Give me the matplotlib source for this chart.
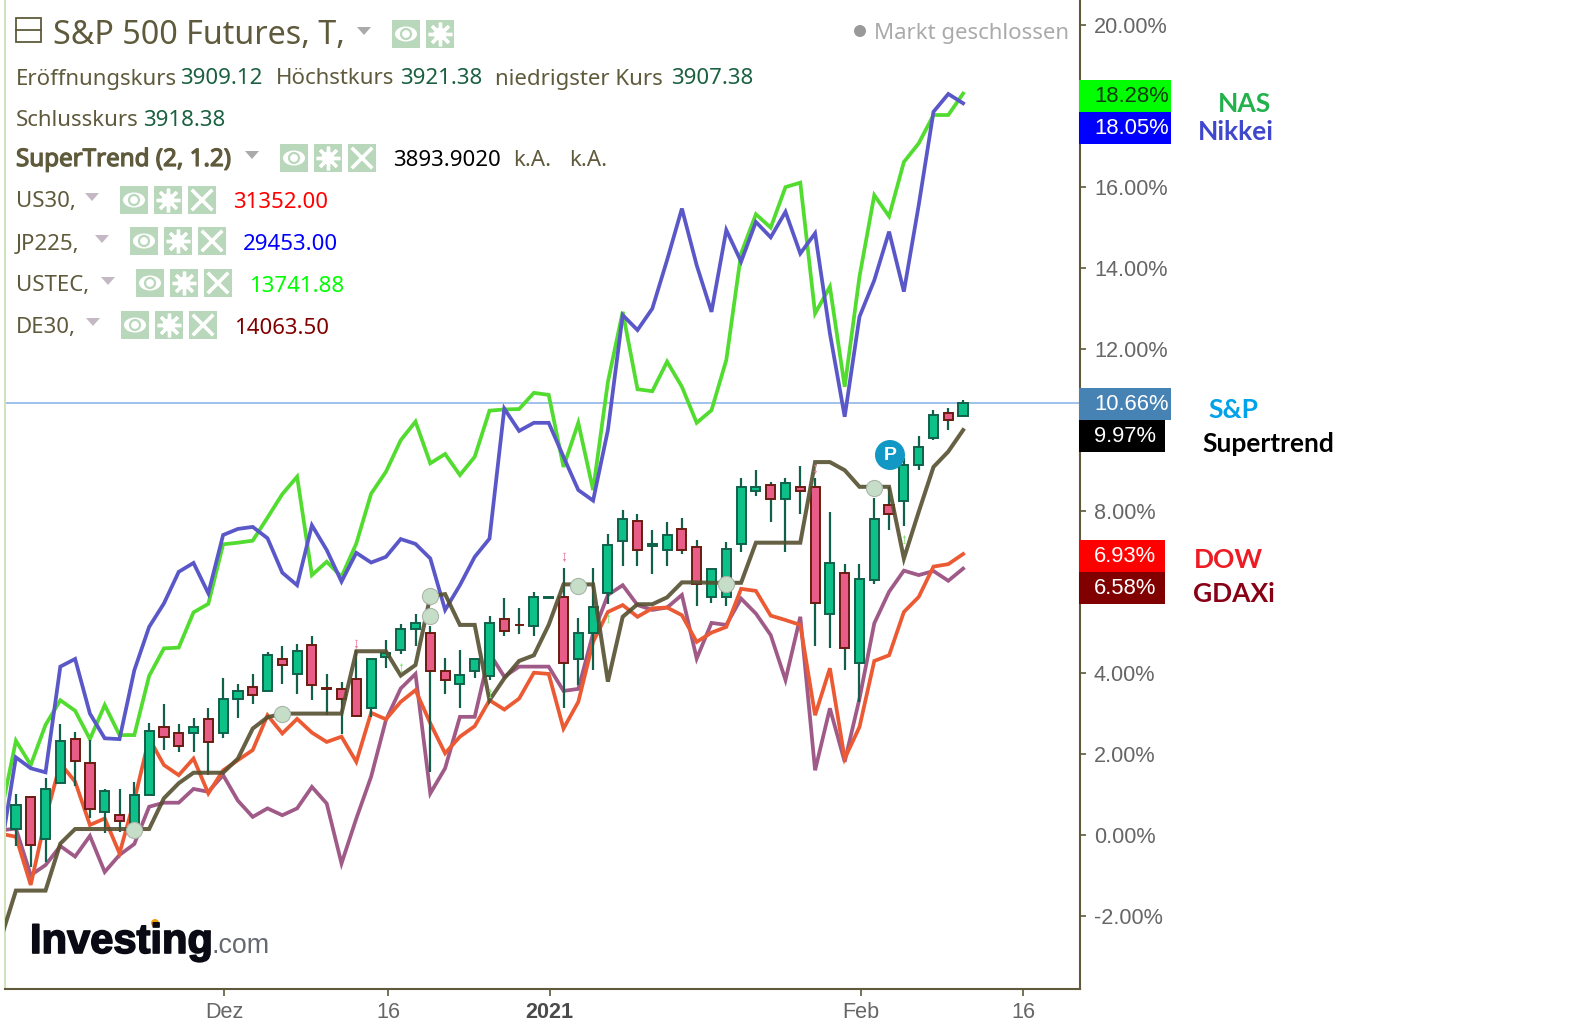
import matplotlib
matplotlib.use('Agg')
import matplotlib.pyplot as plt
import matplotlib.patheffects as pe
from matplotlib.path import Path
from matplotlib.patches import Rectangle, Circle, Ellipse, Polygon

plt.rcParams['font.family'] = ['Liberation Sans', 'DejaVu Sans']

# candles of S&P 500 futures, in percent
opens = [.16,.95,-.09,1.29,2.38,1.79,.58,.50,.21,.99,2.67,2.53,2.51,2.87,2.51,3.35,3.66,3.55,4.35,3.99,4.70,3.62,3.61,3.86,3.15,4.40,4.58,5.08,5.00,4.06,3.74,4.04,3.94,5.34,5.20,5.16,5.86,5.88,4.34,4.98,5.97,7.25,7.76,7.15,7.05,7.56,7.12,5.87,5.88,7.20,8.49,8.65,8.29,8.60,8.60,5.47,6.48,4.24,6.31,8.16,8.24,9.13,9.80,10.43,10.36]
highs = [1.01,.95,1.40,2.74,2.54,2.35,1.15,1.15,1.30,2.78,3.23,2.74,2.88,3.13,3.88,3.73,3.98,4.52,4.67,4.72,4.91,3.98,3.78,4.57,4.36,4.81,5.21,5.46,5.16,4.37,4.57,4.36,5.41,5.85,5.60,6.00,5.88,6.59,5.36,6.59,7.43,8.02,7.93,7.53,7.73,7.83,7.28,6.58,7.23,8.81,9.01,8.72,8.81,9.11,8.81,7.98,6.69,6.69,8.32,8.60,9.31,9.85,10.49,10.54,10.74]
lows = [-.26,-.78,-.66,1.29,1.21,.41,.04,.08,.12,.99,2.10,2.05,2.05,1.48,2.40,2.89,3.23,3.55,3.73,3.48,3.33,2.96,2.49,2.91,2.91,4.12,4.47,4.67,1.56,3.48,3.14,3.88,3.83,4.91,4.96,4.91,5.86,3.14,3.70,4.07,5.70,6.64,6.64,6.44,6.64,6.94,5.65,5.73,5.65,6.99,8.37,7.73,6.99,7.93,4.67,4.62,4.07,3.28,6.20,7.53,7.63,9.01,9.75,10.00,10.36]
closes = [.74,-.25,1.14,2.33,1.82,.64,1.09,.34,1.00,2.58,2.41,2.21,2.67,2.31,3.37,3.56,3.45,4.45,4.19,4.55,3.70,3.60,3.35,2.95,4.35,4.50,5.09,5.24,4.04,3.84,3.96,4.35,5.24,5.03,5.18,5.88,5.88,4.24,5.00,5.64,7.17,7.81,7.05,7.19,7.41,7.05,6.21,6.58,7.07,8.60,8.60,8.29,8.70,8.49,5.72,6.72,4.63,6.33,7.81,7.94,9.14,9.59,10.38,10.26,10.66]

# comparison lines, these start one session before the first candle
nas = [.55,2.33,1.73,2.72,3.33,3.07,2.37,3.21,2.47,2.47,3.93,4.61,4.63,5.50,5.71,7.18,7.22,7.27,7.84,8.42,8.85,6.42,6.75,6.38,7.20,8.43,8.97,9.75,10.21,9.18,9.41,8.89,9.34,10.48,10.51,10.52,10.92,10.87,9.09,10.18,8.52,11.19,12.92,11.01,10.96,11.69,11.07,10.18,10.49,11.73,14.36,15.33,15.0,16.0,16.11,12.88,13.54,11.07,13.79,15.80,15.28,16.62,17.08,17.78,17.78,18.31]
nikkei = [-.34,1.92,1.65,1.55,4.16,4.35,3.00,2.39,2.37,4.07,5.14,5.72,6.50,6.72,5.97,7.41,7.56,7.61,7.33,6.48,6.17,7.65,7.04,6.26,6.97,6.73,6.87,7.31,7.19,6.83,5.56,6.17,6.87,7.32,10.53,9.98,10.18,10.18,9.34,8.52,8.26,10.0,12.84,12.47,13.0,14.2,15.47,14.07,12.92,14.94,14.16,15.14,14.76,15.39,14.36,14.86,12.39,10.33,12.80,13.70,14.90,13.42,15.55,17.86,18.30,18.07]
dow = [.03,-.04,-1.23,.41,1.77,1.32,.25,.41,-.45,.86,2.39,1.73,1.48,1.89,1.03,1.60,1.85,2.10,2.96,2.51,2.87,2.53,2.30,2.43,1.81,3.02,2.86,3.29,3.58,2.76,2.02,2.43,2.69,3.33,3.10,3.37,4.01,3.98,2.63,3.29,4.77,5.51,5.68,5.39,5.60,5.62,5.43,4.77,5.00,5.14,6.08,6.03,5.42,5.31,5.19,2.96,4.12,1.89,2.67,4.30,4.44,5.51,5.88,6.63,6.69,6.94]
gdaxi = [.12,.16,-.99,-.74,-.27,-.53,-.02,-.91,-.49,-.22,.70,.80,.80,1.14,1.07,1.48,.85,.45,.66,.49,.66,1.19,.78,-.70,.41,1.44,2.84,3.62,3.98,1.03,1.65,2.92,2.92,4.49,3.91,4.16,4.16,4.16,3.56,3.61,4.98,5.93,6.17,5.68,5.56,5.62,5.93,4.36,5.24,5.19,5.84,5.47,4.94,3.83,5.39,1.60,3.13,1.81,3.37,5.23,6.01,6.53,6.42,6.52,6.28,6.58]
supertrend = [-2.54,-1.37,-1.37,-1.37,-.21,.15,.15,.15,.15,.15,.15,.91,1.28,1.54,1.54,1.54,1.89,2.63,2.91,3.00,3.00,3.00,3.00,3.00,4.54,4.54,4.54,3.94,4.20,5.90,5.95,5.19,5.19,3.33,3.87,4.30,4.44,5.19,6.19,6.19,6.19,3.79,5.39,5.70,5.70,5.87,6.24,6.24,6.23,6.23,6.23,7.22,7.22,7.22,7.22,9.21,9.21,9.01,8.60,8.60,8.60,6.83,7.98,9.09,9.47,10.0]

# supertrend flips and small signal arrows
flip_x = [8, 18, 28, 28, 38, 48, 58]
flip_y = [.12, 3.00, 5.90, 5.41, 6.15, 6.20, 8.57]
down_x = [23, 37, 54]
down_y = [4.73, 6.87, 9.03]
up_x = [26, 32, 40, 60]
up_y = [4.16, 3.50, 5.37, 7.30]

y_ticks = [20, 16, 14, 12, 8, 4, 2, 0, -2]
y_labels = ['20.00%', '16.00%', '14.00%', '12.00%', '8.00%', '4.00%', '2.00%', '0.00%', '-2.00%']
x_ticks = [14.07, 25.14, 36.07, 57.07, 68.07]
x_labels = ['Dez', '16', '2021', 'Feb', '16']
last_price = 10.66

olive = '#5f5a3c'
gray = '#666666'

fig = plt.figure(figsize=(15.84, 10.28), dpi=100)
ax = fig.add_axes([5 / 1584, 39 / 1028, 1075 / 1584, 989 / 1028])

idx = list(range(len(opens)))
line_idx = list(range(-1, len(opens)))

ax.axhline(last_price, color='#8fb8e8', lw=1.2, zorder=1)
ax.plot(line_idx, nas, color='#52dc30', lw=2.7, zorder=2, solid_joinstyle='miter')
ax.plot(line_idx, nikkei, color='#5a58c8', lw=2.7, zorder=2.1, solid_joinstyle='miter')
ax.plot(line_idx, gdaxi, color='#a05a88', lw=2.7, zorder=2.2, solid_joinstyle='miter')
ax.plot(line_idx, dow, color='#ec5a34', lw=2.7, zorder=2.3, solid_joinstyle='miter')

# candles, wicks are green for both directions
body_bottom = [min(o, c) for o, c in zip(opens, closes)]
body_height = [abs(o - c) for o, c in zip(opens, closes)]
body_color = ['#0cc088' if c >= o else '#e85c88' for o, c in zip(opens, closes)]
edge_color = ['#11604a' if c >= o else '#6a1c10' for o, c in zip(opens, closes)]
ax.vlines(idx, lows, highs, color='#11604a', lw=1.6, zorder=3)
ax.bar(idx, body_height, bottom=body_bottom, width=0.62, color=body_color,
       edgecolor=edge_color, lw=1.4, zorder=3.1)

ax.plot(line_idx, supertrend, color='#55502f', lw=2.9, alpha=0.9, zorder=4, solid_joinstyle='miter')

ax.scatter(flip_x, flip_y, s=135, color='#c6dec8', edgecolor='#a9b5a9', lw=0.8, zorder=5)

# arrows with a bar and a stem
down_arrow = Path([(-1, 3), (1, 3), (1, 2.6), (.25, 2.6), (.25, -1), (1, -1), (0, -3), (-1, -1), (-.25, -1), (-.25, 2.6), (-1, 2.6), (-1, 3)], closed=True)
up_arrow = Path([(-1, -3), (1, -3), (1, -2.6), (.25, -2.6), (.25, 1), (1, 1), (0, 3), (-1, 1), (-.25, 1), (-.25, -2.6), (-1, -2.6), (-1, -3)], closed=True)
ax.scatter(down_x, down_y, s=44, marker=down_arrow, color='#ef7fa0', lw=0, zorder=5)
ax.scatter(up_x, up_y, s=44, marker=up_arrow, color='#86e878', lw=0, zorder=5)

ax.set_xlim(-0.738, 71.90)
ax.set_ylim(-3.80, 20.62)
ax.yaxis.tick_right()
ax.set_yticks(y_ticks)
ax.set_yticklabels(y_labels)
ax.set_xticks(x_ticks)
ax.set_xticklabels(x_labels)
ax.tick_params(axis='y', colors=olive, labelcolor=gray, labelsize=15.6, length=4.5, width=1.2, pad=5.5)
ax.tick_params(axis='x', colors=olive, labelcolor=gray, labelsize=15.6, length=5, width=1.2, pad=4.5)
ax.get_xticklabels()[2].set_fontweight('bold')
ax.get_xticklabels()[2].set_color('#4a4a4a')
ax.spines['top'].set_visible(False)
ax.spines['left'].set_color('#cfe3bd')
ax.spines['left'].set_linewidth(1.5)
ax.spines['right'].set_color(olive)
ax.spines['right'].set_linewidth(1.5)
ax.spines['bottom'].set_color(olive)
ax.spines['bottom'].set_linewidth(1.5)

# overlay in pixel coordinates for the header, price tags and logo
ov = fig.add_axes([0, 0, 1, 1], facecolor='none')
ov.set_xlim(0, 1584)
ov.set_ylim(1028, 0)
ov.axis('off')


def txt(x, y, s, color=olive, size=16, family='Noto Sans', bold=False):
    t = ov.text(x, y + 3, s, color=color, fontsize=size, family=family, ha='left', va='center')
    if bold:
        t.set_path_effects([pe.withStroke(linewidth=0.9, foreground=color)])


def name(x, y, s, color):
    ov.text(x, y + 1.5, s, color=color, fontsize=19, fontweight='bold', family='Lato', ha='left', va='center')


def icon(x, y, kind):
    ov.add_patch(Rectangle((x, y), 28, 28, color='#b9d8bb', lw=0))
    cx = x + 14
    cy = y + 14
    if kind == 'eye':
        ov.add_patch(Ellipse((cx, cy), 22, 15, color='white', lw=0))
        ov.add_patch(Circle((cx, cy), 5, facecolor='white', edgecolor='#b9d8bb', lw=1.6))
    elif kind == 'gear':
        ov.plot([cx], [cy], marker=(8, 2, 0), ms=17, color='white', mew=2.4)
        ov.add_patch(Circle((cx, cy), 6.5, color='white', lw=0))
        ov.add_patch(Circle((cx, cy), 3, color='#b9d8bb', lw=0))
    else:
        ov.plot([x + 5, x + 23], [y + 5, y + 23], color='white', lw=2.6)
        ov.plot([x + 5, x + 23], [y + 23, y + 5], color='white', lw=2.6)


def drop(x, y, color='#aaaaaa'):
    ov.add_patch(Polygon([(x - 7, y - 4), (x + 7, y - 4), (x, y + 4)], color=color, lw=0))


def tag(y0, width, s, bg, color='white'):
    ov.add_patch(Rectangle((1079, y0), width, 32, color=bg, lw=0))
    ov.text(1094, y0 + 16.5, s, color=color, fontsize=15.8, va='center', ha='left')


# header
ov.add_patch(Rectangle((16, 18), 25, 24, facecolor='white', edgecolor=olive, lw=1.3))
ov.plot([16, 41], [30, 30], color=olive, lw=1.3)
txt(53, 32, 'S&P 500 Futures, T,', size=23.2)
drop(364, 31)
icon(392, 20, 'eye')
icon(426, 20, 'gear')
ov.add_patch(Circle((860, 31), 6, color='#999999', lw=0))
txt(874, 31, 'Markt geschlossen', color='#aaaaaa', size=16)

txt(16, 76, 'Eröffnungskurs')
txt(180, 76, '3909.12', color='#1a6040')
txt(276, 76, 'Höchstkurs')
txt(400, 76, '3921.38', color='#1a6040')
txt(495, 76, 'niedrigster Kurs')
txt(671, 76, '3907.38', color='#1a6040')
txt(16, 117, 'Schlusskurs')
txt(143, 117, '3918.38', color='#1a6040')

txt(16, 157, 'SuperTrend (2, 1.2)', size=17.4, bold=True)
drop(252, 155)
for x, kind in zip([280, 314, 348], ['eye', 'gear', 'x']):
    icon(x, 144, kind)
txt(393, 158, '3893.9020', color='black')
txt(513, 158, 'k.A.')
txt(569, 158, 'k.A.')

rows = [('US30,', 199, 92, 120, 186, '31352.00', 233, '#ff0000'),
        ('JP225,', 241, 102, 130, 227, '29453.00', 243, '#0000ff'),
        ('USTEC,', 283, 108, 136, 269, '13741.88', 249, '#00ff00'),
        ('DE30,', 324, 93, 121, 311, '14063.50', 234, '#800000')]
for label, ty, dx, ix, iy, val, vx, col in rows:
    txt(16, ty, label)
    drop(dx, ty - 2, '#c4b8c4')
    for off, kind in zip([0, 34, 68], ['eye', 'gear', 'x']):
        icon(ix + off, iy, kind)
    txt(vx, ty + 1, val, color=col)

# price tags on the axis
tag(80, 92, '18.28%', '#00ff00', '#123a12')
tag(112, 92, '18.05%', '#0000ff')
tag(388, 92, '10.66%', '#4682b4')
tag(420, 86, '9.97%', '#000000')
tag(540, 86, '6.93%', '#ff0000')
tag(572, 86, '6.58%', '#800000')

# names written next to the tags
name(1218, 103, 'NAS', '#22b14c')
name(1198, 130, 'Nikkei', '#3f48cc')
name(1208, 408, 'S&P', '#00a2e8')
name(1202, 442, 'Supertrend', 'black')
name(1194, 558, 'DOW', '#ed1c24')
name(1193, 592, 'GDAXi', '#880015')

# P marker
ov.add_patch(Circle((890, 455), 15, color='#1298c4', lw=0))
ov.text(890, 455, 'P', color='white', fontsize=14, fontweight='bold', ha='center', va='center')

# logo
logo = ov.text(30, 953, 'Investing', color='#0a0a14', fontsize=30, fontweight='bold', family='Liberation Sans',
               ha='left', va='baseline')
logo.set_path_effects([pe.withStroke(linewidth=1.2, foreground='#0a0a14')])
ov.text(212, 953, '.com', color='#666a70', fontsize=19.3, family='Liberation Sans', ha='left', va='baseline')
ov.add_patch(Circle((155, 923), 4, color='#f0a010', lw=0))

fig.savefig('out.png', dpi=100)
